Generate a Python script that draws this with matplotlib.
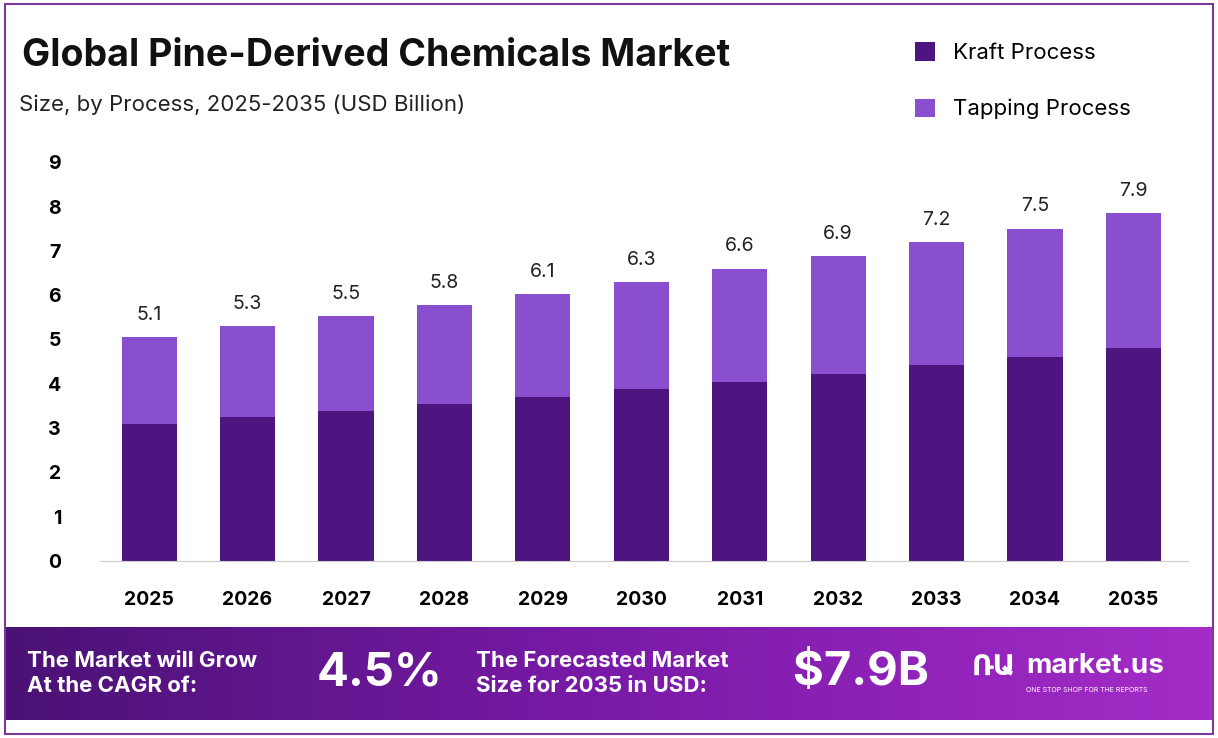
import matplotlib.pyplot as plt
import numpy as np
from matplotlib.patches import Rectangle
from matplotlib.colors import LinearSegmentedColormap

plt.rcParams['font.family'] = ['Inter', 'DejaVu Sans']

years = ['2025', '2026', '2027', '2028', '2029', '2030', '2031', '2032', '2033', '2034', '2035']
kraft = [3.1, 3.24, 3.38, 3.54, 3.7, 3.88, 4.04, 4.22, 4.42, 4.6, 4.8]
total = [5.05, 5.3, 5.52, 5.78, 6.03, 6.3, 6.6, 6.88, 7.2, 7.5, 7.85]
labels = ['5.1', '5.3', '5.5', '5.8', '6.1', '6.3', '6.6', '6.9', '7.2', '7.5', '7.9']
tapping = [t - k for t, k in zip(total, kraft)]

c_kraft = '#4e1580'
c_tap = '#8a4fcf'

fig = plt.figure(figsize=(12.18, 7.38), dpi=100)
fig.patches.append(Rectangle((0.004, 0.005), 0.992, 0.99, transform=fig.transFigure,
                             fill=False, edgecolor='#7a3a9a', linewidth=1.5))

ax = fig.add_axes([0.082, 0.24, 0.893, 0.54])
x = np.arange(len(years))
ax.bar(x, kraft, width=0.56, color=c_kraft, label='Kraft Process')
ax.bar(x, tapping, bottom=kraft, width=0.56, color=c_tap, label='Tapping Process')
for xi, t, l in zip(x, total, labels):
    ax.text(xi, t + 0.3, l, ha='center', va='bottom', fontsize=14, color='#222222')
ax.set_ylim(0, 9)
ax.set_xlim(-0.5, 10.55)
ax.set_yticks(range(10))
ax.set_xticks(x)
ax.set_xticklabels(years, fontsize=14, fontweight='bold')
for lab in ax.get_yticklabels():
    lab.set_fontsize(14)
    lab.set_fontweight('bold')
ax.tick_params(axis='x', length=0, pad=22)
ax.tick_params(axis='y', length=0, pad=28)
for s in ['top', 'right', 'left']:
    ax.spines[s].set_visible(False)
ax.spines['bottom'].set_color('#cccccc')

fig.text(0.018, 0.91, 'Global Pine-Derived Chemicals Market', fontsize=27, fontweight='bold', color='#111111')
fig.text(0.016, 0.85, 'Size, by Process, 2025-2035 (USD Billion)', fontsize=16, color='#222222')
fig.legend(loc='upper left', bbox_to_anchor=(0.735, 0.97), frameon=False, fontsize=16,
           handlelength=0.9, handleheight=0.9, labelspacing=1.6)

# bottom banner with gradient
bax = fig.add_axes([0.004, 0.025, 0.992, 0.125])
grad = np.linspace(0, 1, 256).reshape(1, -1)
cmap = LinearSegmentedColormap.from_list('b', ['#4a1275', '#7a1aa8', '#a52cc8'])
bax.imshow(grad, aspect='auto', cmap=cmap, extent=[0, 1, 0, 1])
bax.set_axis_off()
bax.text(0.018, 0.5, 'The Market will Grow\nAt the CAGR of:', color='white', fontsize=16,
         fontweight='bold', va='center', linespacing=1.3)
bax.text(0.258, 0.5, '4.5%', color='white', fontsize=34, fontweight='bold', va='center')
bax.text(0.39, 0.5, 'The Forecasted Market\nSize for 2035 in USD:', color='white', fontsize=16,
         fontweight='bold', va='center', linespacing=1.3)
bax.text(0.652, 0.5, '$7.9B', color='white', fontsize=34, fontweight='bold', va='center')
bax.text(0.80, 0.55, 'ՌԱ', color='white', fontsize=20, fontweight='bold', va='center')
bax.text(0.845, 0.58, 'market.us', color='white', fontsize=20, fontweight='bold', va='center')
bax.text(0.845, 0.32, 'ONE STOP SHOP FOR THE REPORTS', color='white', fontsize=5, va='center')

fig.savefig('out.png', dpi=100)
